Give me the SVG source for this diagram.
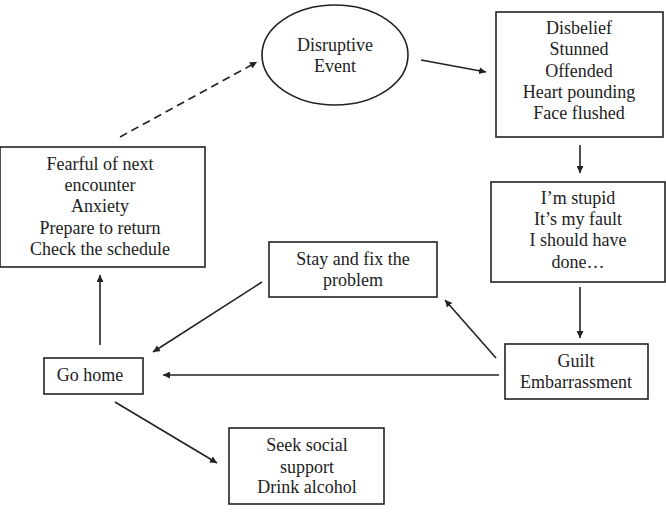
<svg xmlns="http://www.w3.org/2000/svg" width="666" height="512" viewBox="0 0 666 512">
<style>
.box{fill:#fff;stroke:#222;stroke-width:1.6}
.t{font-size:18px;fill:#222;text-anchor:middle;dominant-baseline:central}
.c{fill:none;stroke:#222;stroke-width:1.6;marker-end:url(#ah)}
.d{stroke-dasharray:8 5}
</style>
<defs>
<marker id="ah" viewBox="0 0 10 10" refX="10" refY="5" markerWidth="7" markerHeight="7" markerUnits="userSpaceOnUse" orient="auto">
<path d="M0,0 L10,5 L0,10 z" fill="#222"/>
</marker>
</defs>
<rect width="666" height="512" fill="#fff"/>
<g id="connectors">
<path class="c d" d="M120,137 L257,62"/>
<path class="c" d="M421,60 L486,72"/>
<path class="c" d="M580,145 L580,173"/>
<path class="c" d="M580,287 L580,338"/>
<path class="c" d="M499,375 L163,375"/>
<path class="c" d="M100,345 L100,275"/>
<path class="c" d="M262,282 L153,352"/>
<path class="c" d="M496,358 L445,300"/>
<path class="c" d="M115,402 L217,463"/>
</g>
<g font-family="Liberation Serif, Times New Roman, serif">
<g id="disruptive">
<ellipse class="box" cx="335" cy="55" rx="73" ry="50"/>
<text class="t" x="335" y="45">Disruptive</text>
<text class="t" x="335" y="66">Event</text>
</g>
<g id="disbelief">
<rect class="box" x="496" y="12" width="167" height="125"/>
<text class="t" x="579" y="28">Disbelief</text>
<text class="t" x="579" y="49">Stunned</text>
<text class="t" x="579" y="71">Offended</text>
<text class="t" x="579" y="92">Heart pounding</text>
<text class="t" x="579" y="113">Face flushed</text>
</g>
<g id="stupid">
<rect class="box" x="491" y="182" width="174" height="100"/>
<text class="t" x="578" y="198">I’m stupid</text>
<text class="t" x="578" y="219">It’s my fault</text>
<text class="t" x="578" y="240">I should have</text>
<text class="t" x="578" y="262">done…</text>
</g>
<g id="guilt">
<rect class="box" x="505" y="344" width="143" height="55"/>
<text class="t" x="576" y="361">Guilt</text>
<text class="t" x="576" y="382">Embarrassment</text>
</g>
<g id="gohome">
<rect class="box" x="44" y="358" width="99" height="36"/>
<text class="t" x="90" y="375">Go home</text>
</g>
<g id="fearful">
<rect class="box" x="0" y="147" width="205" height="120"/>
<text class="t" x="100" y="164">Fearful of next</text>
<text class="t" x="100" y="185">encounter</text>
<text class="t" x="100" y="206">Anxiety</text>
<text class="t" x="100" y="228">Prepare to return</text>
<text class="t" x="100" y="249">Check the schedule</text>
</g>
<g id="stay">
<rect class="box" x="269" y="242" width="168" height="55"/>
<text class="t" x="353" y="259">Stay and fix the</text>
<text class="t" x="353" y="280">problem</text>
</g>
<g id="seek">
<rect class="box" x="229" y="428" width="155" height="76"/>
<text class="t" x="307" y="445">Seek social</text>
<text class="t" x="307" y="467">support</text>
<text class="t" x="307" y="487">Drink alcohol</text>
</g>
</g>
</svg>
